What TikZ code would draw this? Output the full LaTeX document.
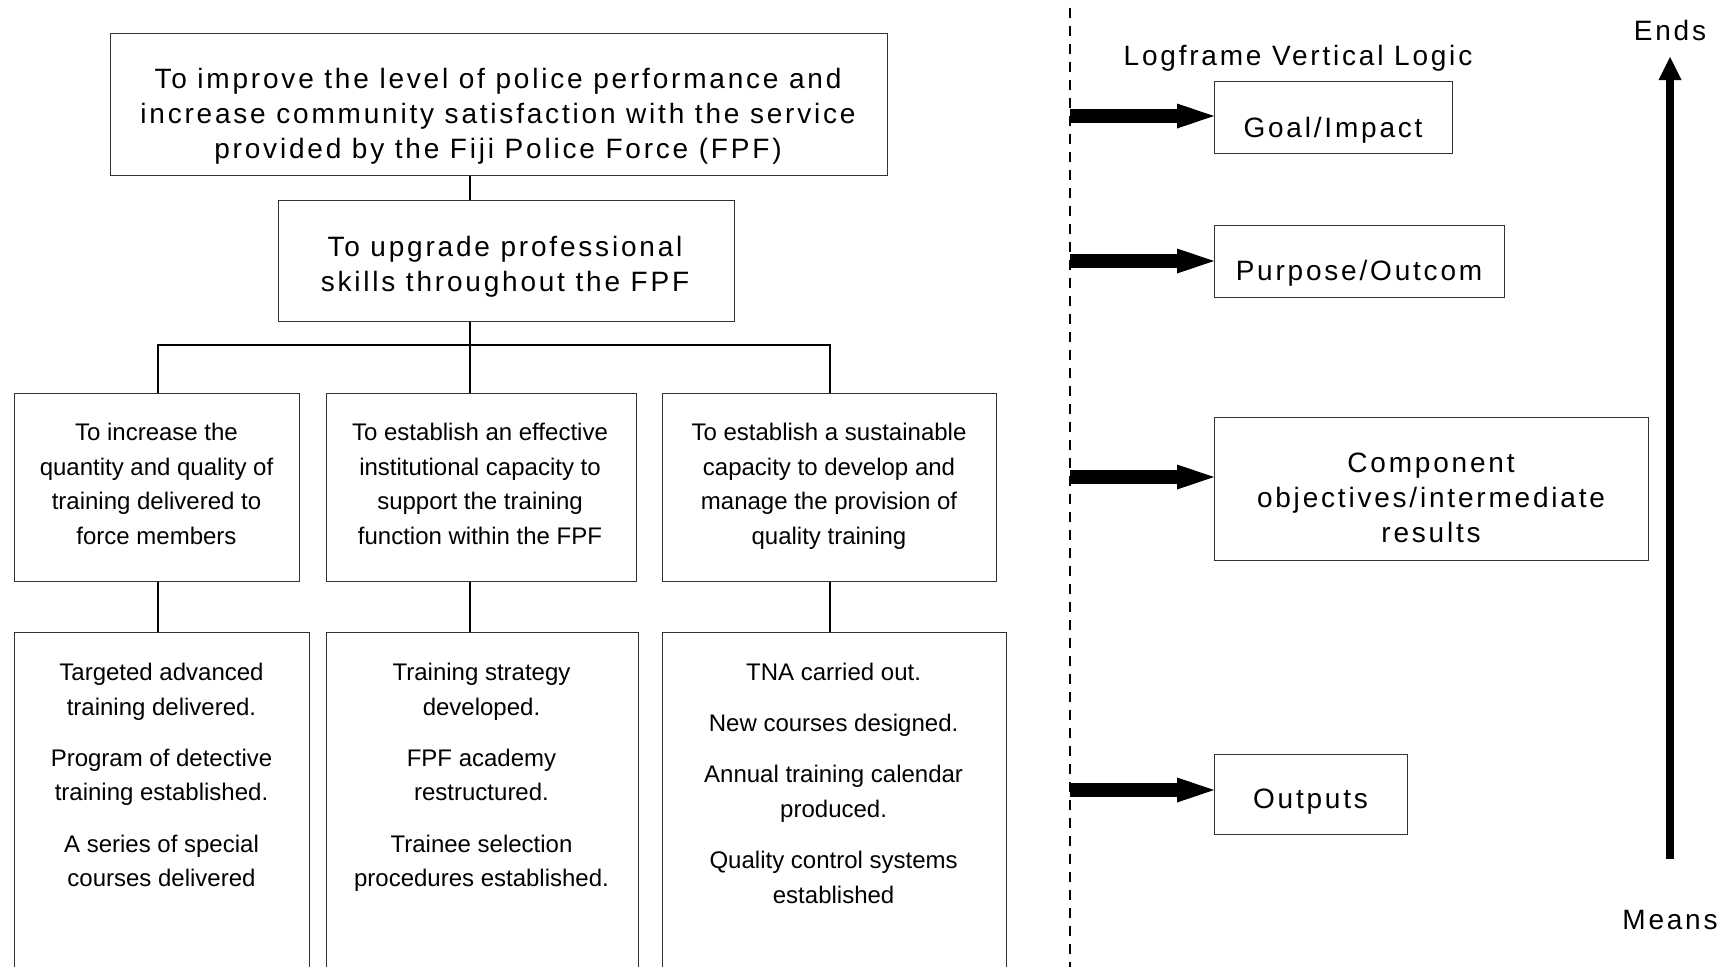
\documentclass[tikz,border=0pt]{standalone}
\usepackage{fontspec}
\setmainfont{Liberation Sans}
\newfontfamily\widefont[LetterSpace=10]{Liberation Sans}
\usetikzlibrary{arrows.meta}
\tikzset{
  box/.style={draw=black!80, line width=1.4pt, inner sep=0pt, anchor=north west},
  arialtxt/.style={inner sep=0pt, align=center, anchor=north, font=\fontsize{24}{34.6}\selectfont, execute at begin node=\strut, execute at end node=\strut},
  widetxt/.style={inner sep=0pt, align=center, anchor=north, font=\widefont\fontsize{28}{35}\selectfont, execute at begin node=\strut, execute at end node=\strut},
  widelbl/.style={inner sep=0pt, anchor=base, font=\widefont\fontsize{28}{35}\selectfont},
  link/.style={draw=black, line width=2pt},
  divider/.style={draw=black, line width=2.5pt, dash pattern=on 10pt off 8pt},
  bigarrow/.style={line width=14pt, -{Triangle[length=37pt, width=25pt, line width=0pt]}},
  uparrow/.style={line width=8pt, -{Triangle[length=23pt, width=23pt, line width=0pt]}},
}
\begin{document}
\begin{tikzpicture}[x=1pt, y=-1pt]
\useasboundingbox (0,0) rectangle (1736,966);
\clip (0,0) rectangle (1736,966);

% boxes
\node[box, minimum width=777pt, minimum height=142pt] (top) at (110,33) {};
\node[box, minimum width=456pt, minimum height=121pt] (mid) at (278,200) {};
\node[box, minimum width=285pt, minimum height=188pt] (ca) at (14,393) {};
\node[box, minimum width=310pt, minimum height=188pt] (cb) at (326,393) {};
\node[box, minimum width=334pt, minimum height=188pt] (cc) at (662,393) {};
\node[box, minimum width=295pt, minimum height=360pt] (oa) at (14,632) {};
\node[box, minimum width=312pt, minimum height=360pt] (ob) at (326,632) {};
\node[box, minimum width=344pt, minimum height=360pt] (oc) at (662,632) {};
\node[box, minimum width=238pt, minimum height=72pt] (gi) at (1214,81) {};
\node[box, minimum width=290pt, minimum height=72pt] (po) at (1214,225) {};
\node[box, minimum width=434pt, minimum height=143pt] (co) at (1214,417) {};
\node[box, minimum width=193pt, minimum height=80pt] (ou) at (1214,754) {};

% texts
\node[widetxt] (toptxt) at (498,68) {To improve the level of police performance and\\increase community satisfaction with the service\\provided by the Fiji Police Force (FPF)};
\node[widetxt] (midtxt) at (505,236.5) {To upgrade professional\\skills throughout the FPF};
\node[arialtxt] (catxt) at (156.5,423) {To increase the\\quantity and quality of\\training delivered to\\force members};
\node[arialtxt] (cbtxt) at (480,423) {To establish an effective\\institutional capacity to\\support the training\\function within the FPF};
\node[arialtxt] (cctxt) at (829,423) {To establish a sustainable\\capacity to develop and\\manage the provision of\\quality training};
\node[arialtxt] (oatxt) at (161.5,663) {Targeted advanced\\training delivered.\\[16.5pt]Program of detective\\training established.\\[16.5pt]A series of special\\courses delivered};
\node[arialtxt] (obtxt) at (481.5,663) {Training strategy\\developed.\\[16.5pt]FPF academy\\restructured.\\[16.5pt]Trainee selection\\procedures established.};
\node[arialtxt] (octxt) at (833.6,663) {TNA carried out.\\[16.5pt]New courses designed.\\[16.5pt]Annual training calendar\\produced.\\[16.5pt]Quality control systems\\established};

\node[widelbl] (gitxt) at (1333,137) {Goal/Impact};
\node[widelbl] (potxt) at (1359,280) {Purpose/Outcom};
\node[widetxt] (cotxt) at (1431,453) {Component\\objectives/intermediate\\results};
\node[widelbl] (outxt) at (1310.5,808) {Outputs};
\node[widelbl] (title) at (1298,65) {Logframe Vertical Logic};
\node[widelbl] (ends) at (1670,41) {Ends};
\node[widelbl] (means) at (1670,929) {Means};

% tree connectors
\coordinate (spine) at (470,345);
\coordinate (dA) at (158,345);
\coordinate (dC) at (830,345);
\draw[link] (top.south -| spine) -- (mid.north -| spine);
\draw[link] (mid.south -| spine) -- (cb.north -| spine);
\draw[link] (ca.north -| dA) -- (dA) -- (dC) -- (cc.north -| dC);
\draw[link] (ca.south -| dA) -- (oa.north -| dA);
\draw[link] (cb.south -| spine) -- (ob.north -| spine);
\draw[link] (cc.south -| dC) -- (oc.north -| dC);

% divider
\coordinate (dtop) at (1070,8);
\coordinate (dbot) at (1070,970);
\draw[divider] (dtop) -- (dbot);

% logic arrows
\coordinate (a1) at (1070,116);
\coordinate (a2) at (1070,261);
\coordinate (a3) at (1070,477);
\coordinate (a4) at (1070,790);
\draw[bigarrow] (a1) -- (gi.west |- a1);
\draw[bigarrow] (a2) -- (po.west |- a2);
\draw[bigarrow] (a3) -- (co.west |- a3);
\draw[bigarrow] (a4) -- (ou.west |- a4);

% means-ends arrow
\coordinate (vb) at (1670,859);
\coordinate (vt) at (1670,57);
\draw[uparrow] (vb) -- (vt);
\end{tikzpicture}
\end{document}
